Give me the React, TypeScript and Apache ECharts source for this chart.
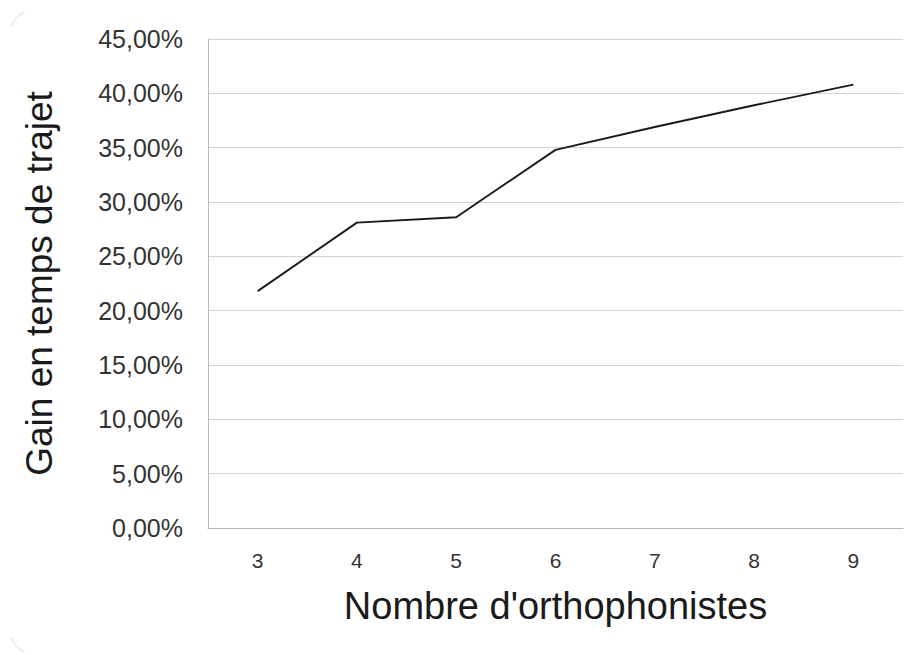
import React, { useEffect, useRef } from "react";
import * as echarts from "echarts";

const categories = ["3", "4", "5", "6", "7", "8", "9"];
const gainValues = [21.8, 28.1, 28.6, 34.8, 36.9, 38.9, 40.8];
const yTitle = "Gain en temps de trajet";
const xTitle = "Nombre d'orthophonistes";

export default function App() {
  const ref = useRef<HTMLDivElement>(null);
  useEffect(() => {
    if (!ref.current) return;
    const chart = echarts.init(ref.current, null, { renderer: "svg" });
    const font = "'Liberation Sans', Arial, sans-serif";
    chart.setOption({
      animation: false,
      backgroundColor: "#ffffff",
      grid: { left: 208, right: 14, top: 39, bottom: 127, containLabel: false },
      xAxis: {
        type: "category",
        data: categories,
        boundaryGap: true,
        axisLine: { show: true, lineStyle: { color: "#b8b8b8", width: 1 } },
        axisTick: { show: false },
        axisLabel: { margin: 22, fontSize: 21, color: "#333333", fontFamily: font },
        name: xTitle,
        nameLocation: "middle",
        nameGap: 59,
        nameTextStyle: { fontSize: 38, color: "#1a1a1a", fontFamily: font },
        splitLine: { show: false },
      },
      yAxis: {
        type: "value",
        min: 0,
        max: 45,
        interval: 5,
        axisLine: { show: true, lineStyle: { color: "#b8b8b8", width: 1 } },
        axisTick: { show: false },
        axisLabel: {
          margin: 25,
          fontSize: 25,
          color: "#333333",
          fontFamily: font,
          formatter: (v: number) => v.toFixed(2).replace(".", ",") + "%",
        },
        splitLine: { show: true, lineStyle: { color: "#d3d3d3", width: 1 } },
        name: yTitle,
        nameLocation: "middle",
        nameGap: 150,
        nameRotate: 90,
        nameTextStyle: { fontSize: 37, color: "#1a1a1a", fontFamily: font },
      },
      series: [
        {
          type: "line",
          data: gainValues,
          symbol: "none",
          lineStyle: { color: "#1a1a1a", width: 1.9 },
        },
      ],
      graphic: [
        {
          type: "arc",
          shape: { cx: 35, cy: 36, r: 26, startAngle: 3.54, endAngle: 4.31 },
          style: { stroke: "#dcdcdc", lineWidth: 1, fill: "none" },
        },
        {
          type: "arc",
          shape: { cx: 35, cy: 628, r: 26, startAngle: 1.97, endAngle: 2.74 },
          style: { stroke: "#dcdcdc", lineWidth: 1, fill: "none" },
        },
      ],
    });
    return () => chart.dispose();
  }, []);
  return (
    <div
      ref={ref}
      style={{ position: "fixed", left: 0, top: 0, width: 917, height: 655 }}
    />
  );
}
